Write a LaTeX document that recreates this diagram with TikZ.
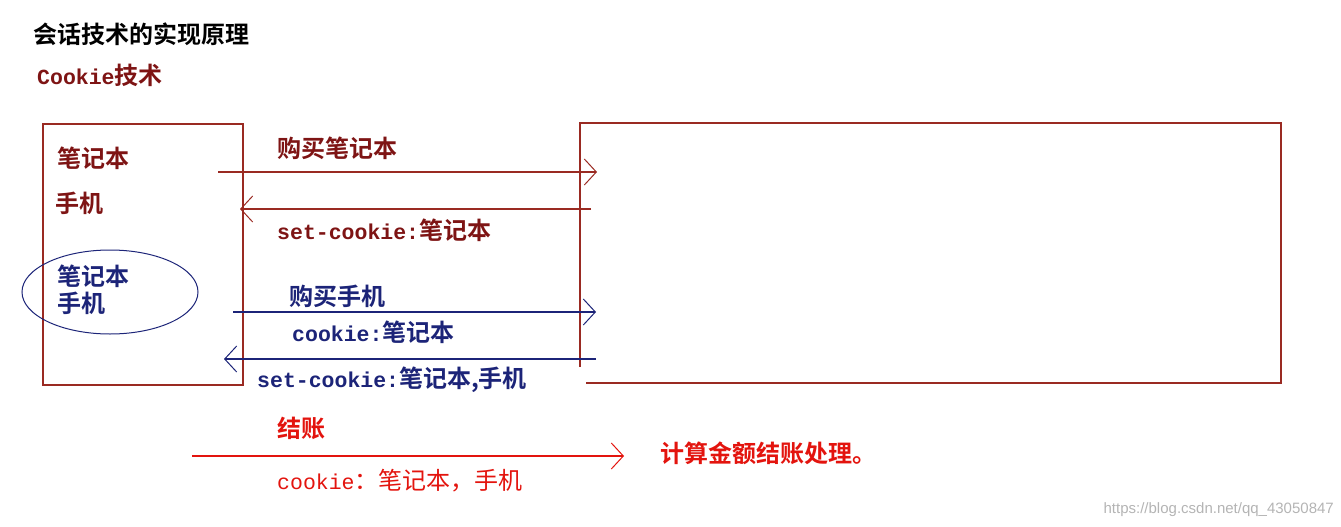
\documentclass[tikz,border=0pt]{standalone}
\usepackage{fontspec}
\usepackage{tikz}
\usetikzlibrary{arrows.meta}
\newfontfamily\cjk{Noto Sans CJK SC}[BoldFont={Noto Sans CJK SC Bold}]
\newfontfamily\mono{Liberation Mono}
\newfontfamily\wmfont{Liberation Sans}
\definecolor{DarkRed}{HTML}{7E1414}
\definecolor{LineRed}{HTML}{9A2A22}
\definecolor{Navy}{HTML}{1C2478}
\definecolor{BrightRed}{HTML}{E3140E}
\definecolor{WmGray}{HTML}{B4B4B4}
\newcommand{\zhtext}[1]{{\fontsize{24}{26}\selectfont\cjk #1}}
\newcommand{\entext}[1]{{\fontsize{21.5}{26}\selectfont\mono #1}}

\begin{document}
\begin{tikzpicture}[x=1pt,y=-1pt,
    lbl/.style={anchor=west,inner sep=0pt,font=\bfseries},
    flow/.style={line width=1.4pt,-{Straight Barb[length=12pt,width=26pt,line width=1pt]}}]
    \useasboundingbox (0,0) rectangle (1341,527);
    % heading
    \node[lbl,text=black] (title) at (33,34) {\zhtext{会话技术的实现原理}};
    \node[lbl,text=DarkRed] (sub) at (37,75) {\entext{Cookie}\zhtext{技术}};
    % browser and server
    \draw[LineRed,line width=1.3pt] (43,124) rectangle (243,385);
    \draw[LineRed,line width=1.3pt] (586,383) -- (1281,383) -- (1281,123) -- (580,123) -- (580,367);
    \node[lbl,text=DarkRed] (item1) at (57,158) {\zhtext{笔记本}};
    \node[lbl,text=DarkRed] (item2) at (55,203) {\zhtext{手机}};
    \node[lbl,text=Navy] (kept1) at (57,276) {\zhtext{笔记本}};
    \node[lbl,text=Navy] (kept2) at (57,303) {\zhtext{手机}};
    \draw[Navy,line width=1pt] (110,292) ellipse [x radius=88, y radius=42];
    % first request
    \coordinate (r1a) at (218,172);
    \coordinate (r1b) at (597,172);
    \draw[flow,LineRed] (r1a) -- (r1b);
    \node[lbl,text=DarkRed] (buy1) at (277,148) {\zhtext{购买笔记本}};
    \coordinate (s1a) at (591,209);
    \coordinate (s1b) at (240,209);
    \draw[flow,LineRed] (s1a) -- (s1b);
    \node[lbl,text=DarkRed] (set1) at (277,230) {\entext{set-cookie:}\zhtext{笔记本}};
    % second request
    \coordinate (r2a) at (233,312);
    \coordinate (r2b) at (596,312);
    \draw[flow,Navy] (r2a) -- (r2b);
    \node[lbl,text=Navy] (buy2) at (289,296) {\zhtext{购买手机}};
    \node[lbl,text=Navy] (ck2) at (292,332) {\entext{cookie:}\zhtext{笔记本}};
    \coordinate (s2a) at (596,359);
    \coordinate (s2b) at (224,359);
    \draw[flow,Navy] (s2a) -- (s2b);
    \node[lbl,text=Navy] (set2) at (257,380) {\entext{set-cookie:}\zhtext{笔记本,手机}};
    % checkout
    \coordinate (payA) at (192,456);
    \coordinate (payB) at (624,456);
    \draw[flow,BrightRed,line width=1.2pt] (payA) -- (payB);
    \node[lbl,text=BrightRed] (pay) at (277,428) {\zhtext{结账}};
    \node[lbl,text=BrightRed,font=\mdseries] (ck3) at (277,481)
      {\entext{cookie}\zhtext{：笔记本，手机}};
    \node[lbl,text=BrightRed] (calc) at (660,453) {\zhtext{计算金额结账处理。}};
    \node[anchor=east,inner sep=0pt,text=WmGray,font=\wmfont\fontsize{15}{17}\selectfont]
      (mark) at (1334,510) {https://blog.csdn.net/qq\_43050847};
\end{tikzpicture}
\end{document}
